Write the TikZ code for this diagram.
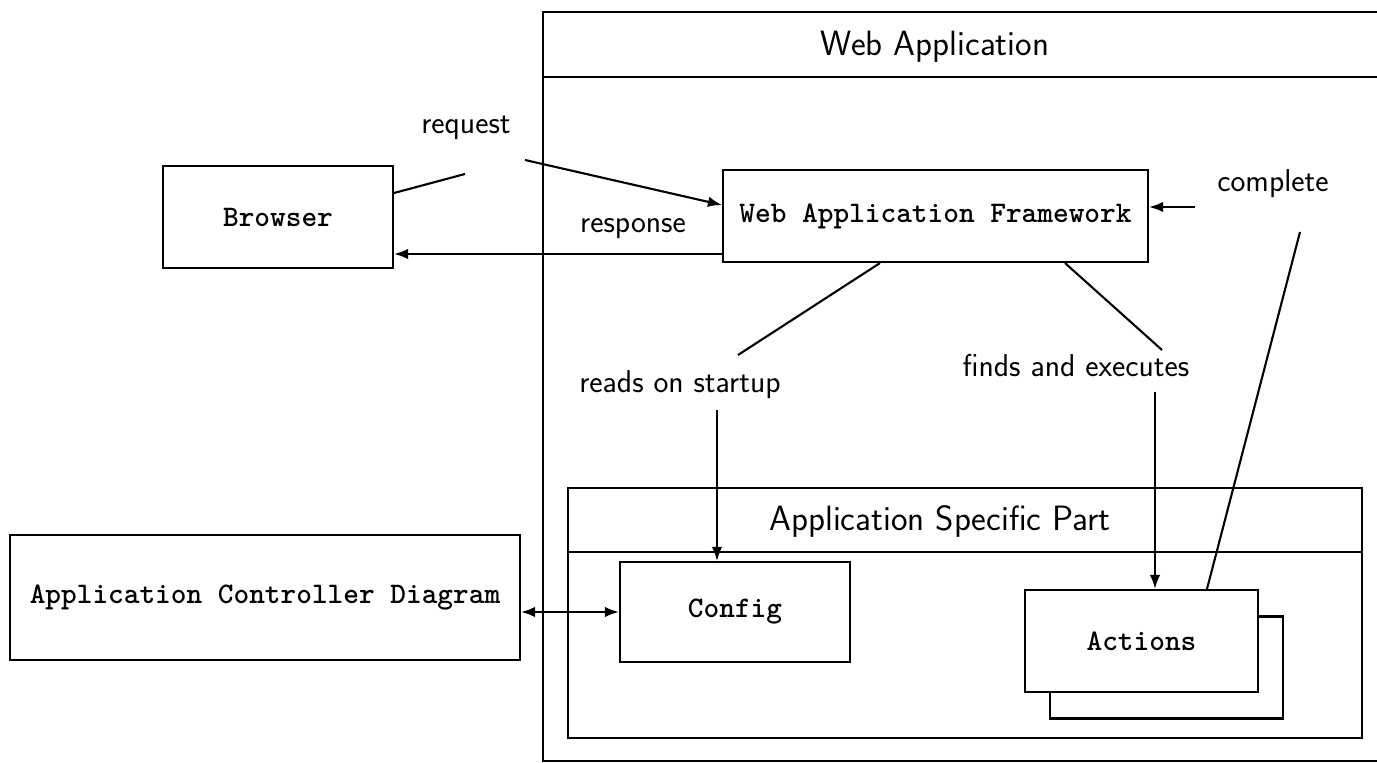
\documentclass[tikz,border=0pt]{standalone}
\usetikzlibrary{arrows.meta}
\begin{document}
\begin{tikzpicture}[x=0.02cm,y=-0.02cm,
  line width=1.2pt,
  box/.style={draw,fill=white,inner sep=0pt,font=\fontsize{17}{20}\selectfont\ttfamily\bfseries},
  lbl/.style={inner sep=1pt,font=\fontsize{18}{21}\selectfont\sffamily},
  ttl/.style={inner sep=1pt,font=\fontsize{20}{24}\selectfont\sffamily},
  arr/.style={-{Latex[length=8pt,width=6pt]}},
  darr/.style={{Latex[length=8pt,width=6pt]}-{Latex[length=8pt,width=6pt]}}]
\useasboundingbox (0,0) rectangle (1377,763);
% Web Application frame
\begin{scope}
\clip (0,0) rectangle (1377,763);
\draw (1400,12) -- (543,12) -- (543,761) -- (1400,761);
\draw (543,77) -- (1400,77);
\end{scope}
\node[ttl] (wa) at (935,47) {Web Application};
% Application Specific Part
\draw (568,488) rectangle (1362,738);
\draw (568,552) -- (1362,552);
\node[ttl] (asp) at (940,521) {Application Specific Part};
% boxes
\node[box,minimum width=4.6cm,minimum height=2.04cm] (browser) at (278,217) {Browser};
\node[box,minimum width=8.5cm,minimum height=1.84cm] (waf) at (935.5,216) {Web Application Framework};
\node[box,minimum width=10.2cm,minimum height=2.5cm] (acd) at (265,597.5) {Application Controller Diagram};
\node[box,minimum width=4.6cm,minimum height=2.0cm] (config) at (735,612) {Config};
\node[box,minimum width=4.66cm,minimum height=2.04cm] (actionsback) at (1166.5,667.5) {};
\node[box,minimum width=4.66cm,minimum height=2.04cm] (actions) at (1141.5,641) {Actions};
% labels
\node[lbl] (req) at (466,128) {request};
\node[lbl] (resp) at (633,229) {response};
\node[lbl] (compl) at (1273,184) {complete};
\node[lbl] (reads) at (680,385) {reads on startup};
\node[lbl] (finds) at (1076,366) {finds and executes};
% coordinates
\coordinate (r1) at (465,174);
\coordinate (r2) at (525,160);
\coordinate (c1) at (1300,232);
\coordinate (c2) at (1195,207);
\coordinate (s1) at (738,355);
\coordinate (s2) at (717,410);
\coordinate (f1) at (1162,350);
\coordinate (f2) at (1155,392);
% connectors
\draw (browser.east |- 0,193) -- (r1);
\draw[arr] (r2) -- (waf.west |- 0,205);
\draw[arr] (waf.west |- 0,254) -- (browser.east |- 0,254);
\draw (actions.north -| 1207,0) -- (c1);
\draw[arr] (c2) -- (waf.east |- c2);
\draw (waf.south -| 880,0) -- (s1);
\draw[arr] (s2) -- (s2 |- config.north);
\draw (waf.south -| 1065,0) -- (f1);
\draw[arr] (f2) -- (f2 |- actions.north);
\draw[darr] (acd.east |- config.west) -- (config.west);
\end{tikzpicture}
\end{document}
